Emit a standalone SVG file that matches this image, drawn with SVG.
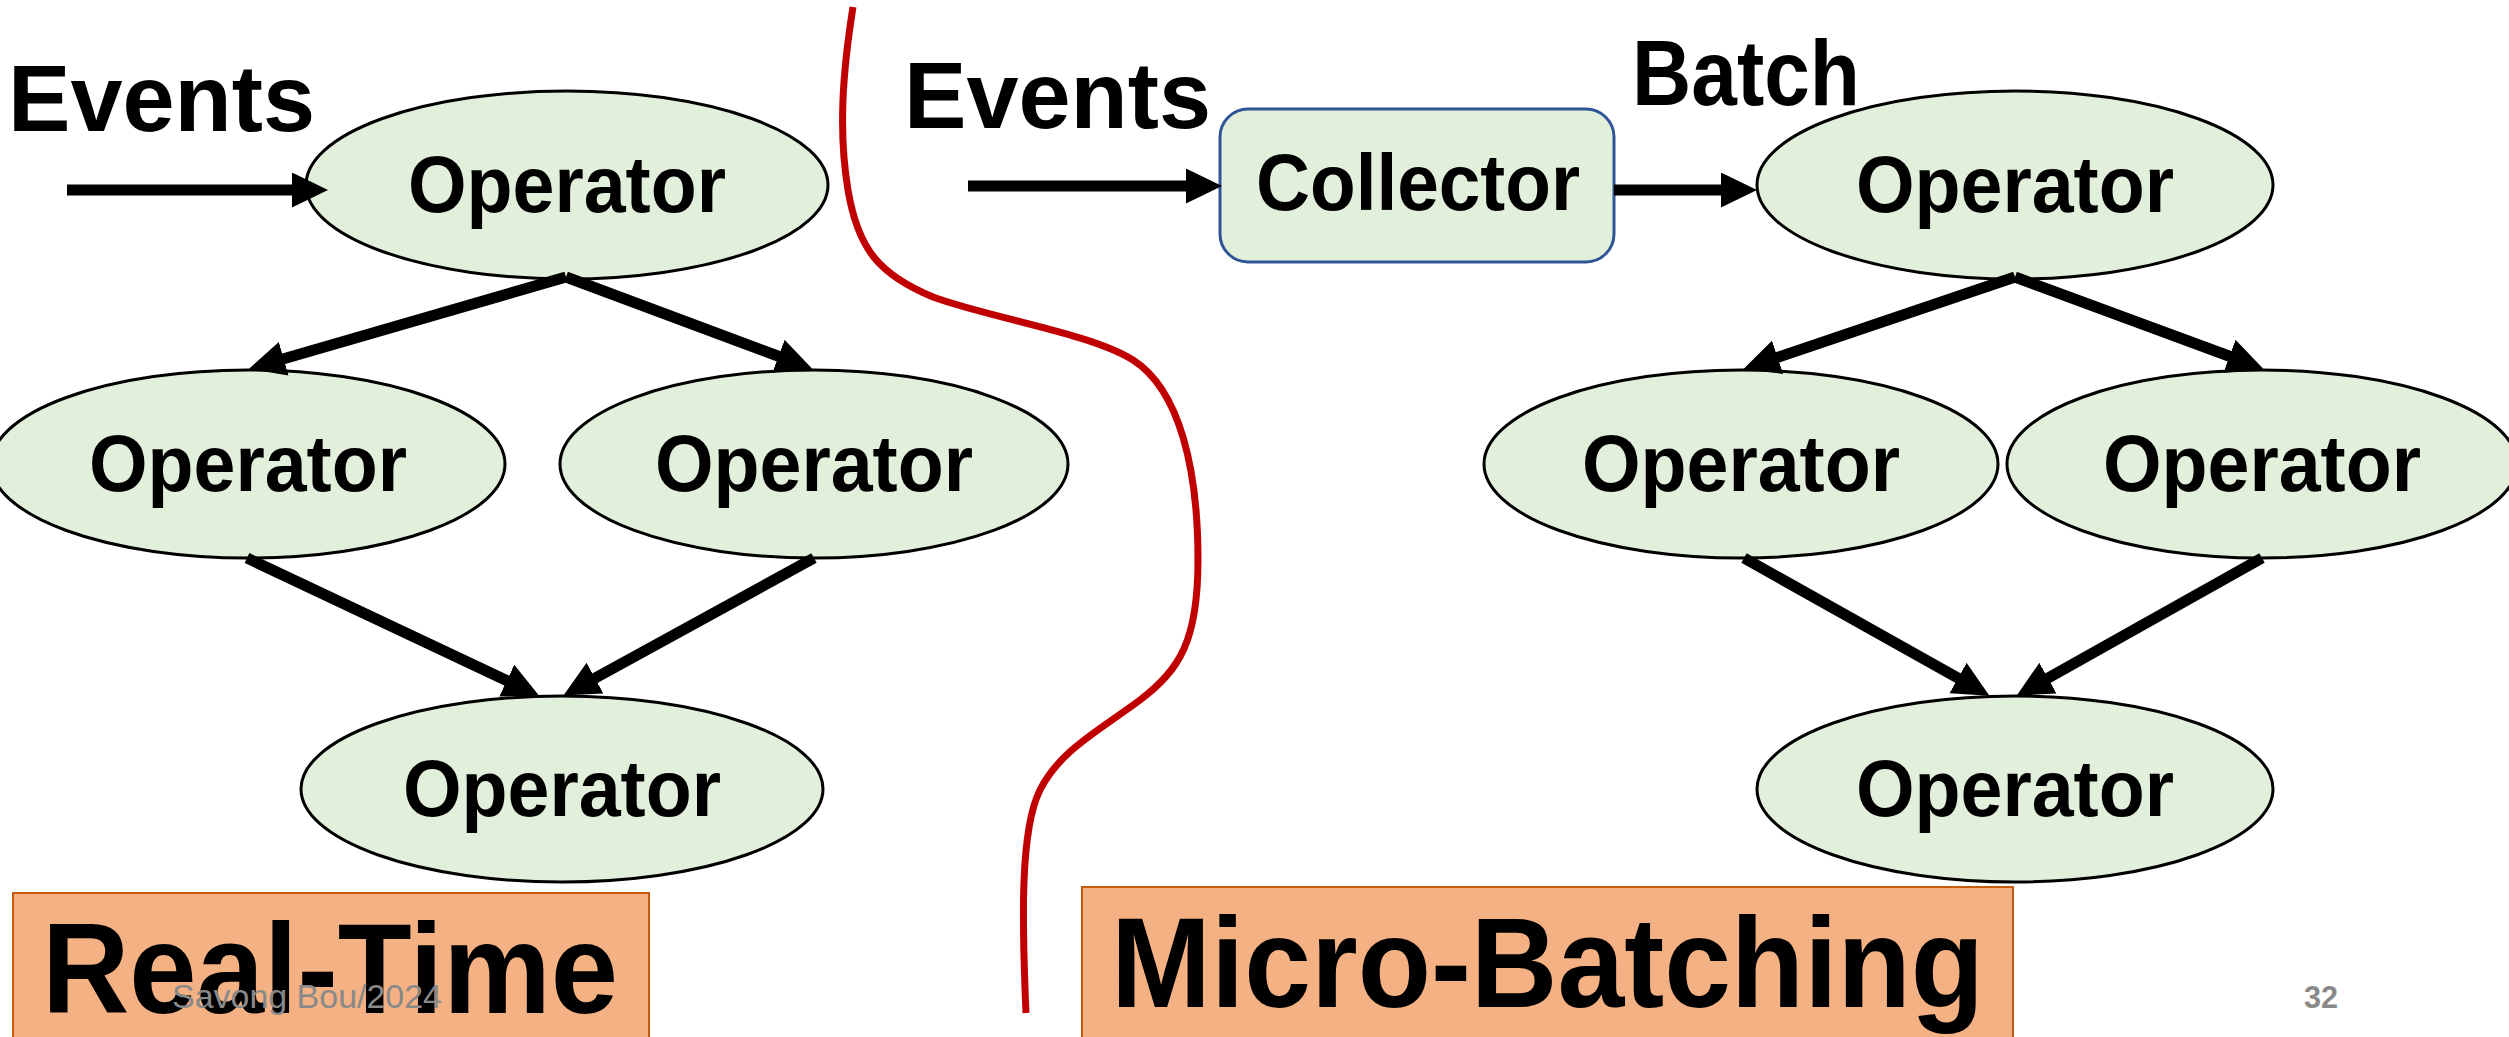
<svg xmlns="http://www.w3.org/2000/svg" width="2509" height="1037" viewBox="0 0 2509 1037">
<style>
.op{fill:#E2EFDA;stroke:#000;stroke-width:3}
.coll{fill:#E2EFDA;stroke:#2F5597;stroke-width:3}
.t{font-family:"Liberation Sans",Arial,sans-serif;font-weight:bold;fill:#000}
.nt{font-size:80px;text-anchor:middle}
.lab{fill:#F4B183;stroke:#C55A11;stroke-width:2}
.conn line{stroke:#000;stroke-width:11;fill:none}
.gray{font-family:"Liberation Sans",Arial,sans-serif;fill:#898989}
</style>
<defs>
<marker id="ah" markerUnits="userSpaceOnUse" markerWidth="40" markerHeight="40" refX="8" refY="17.5" orient="auto">
<path d="M0,0 L36,17.5 L0,35 Z" fill="#000"/>
</marker>
</defs>
<rect width="2509" height="1037" fill="#fff"/>

<path id="divider" d="M853,7 C843,70 838,130 848,190 C858,250 880,275 933,297 C990,318 1090,333 1133,360 C1180,390 1198,470 1198,560 C1198,640 1180,670 1140,700 C1100,730 1060,750 1040,790 C1020,830 1022,920 1026,1013" fill="none" stroke="#C00000" stroke-width="7"/>

<g id="rt-top"><ellipse class="op" cx="567" cy="185" rx="261" ry="94"/><text class="t nt" x="567" y="212" textLength="318" lengthAdjust="spacingAndGlyphs">Operator</text></g>
<g id="rt-midleft"><ellipse class="op" cx="248" cy="464" rx="257" ry="94"/><text class="t nt" x="248" y="491" textLength="318" lengthAdjust="spacingAndGlyphs">Operator</text></g>
<g id="rt-midright"><ellipse class="op" cx="814" cy="464" rx="254" ry="94"/><text class="t nt" x="814" y="491" textLength="318" lengthAdjust="spacingAndGlyphs">Operator</text></g>
<g id="rt-bottom"><ellipse class="op" cx="562" cy="789" rx="261" ry="93"/><text class="t nt" x="562" y="816" textLength="318" lengthAdjust="spacingAndGlyphs">Operator</text></g>

<g id="collector"><rect class="coll" x="1220" y="109" width="394" height="153" rx="28" ry="28"/><text class="t nt" x="1418" y="210" textLength="324" lengthAdjust="spacingAndGlyphs">Collector</text></g>
<g id="mb-top"><ellipse class="op" cx="2015" cy="185" rx="258" ry="94"/><text class="t nt" x="2015" y="212" textLength="318" lengthAdjust="spacingAndGlyphs">Operator</text></g>
<g id="mb-midleft"><ellipse class="op" cx="1741" cy="464" rx="257" ry="94"/><text class="t nt" x="1741" y="491" textLength="318" lengthAdjust="spacingAndGlyphs">Operator</text></g>
<g id="mb-midright"><ellipse class="op" cx="2262" cy="464" rx="255" ry="94"/><text class="t nt" x="2262" y="491" textLength="318" lengthAdjust="spacingAndGlyphs">Operator</text></g>
<g id="mb-bottom"><ellipse class="op" cx="2015" cy="789" rx="258" ry="93"/><text class="t nt" x="2015" y="816" textLength="318" lengthAdjust="spacingAndGlyphs">Operator</text></g>

<g id="connectors" class="conn">
<line x1="67" y1="190" x2="300" y2="190" marker-end="url(#ah)"/>
<line x1="566" y1="277" x2="276" y2="361" marker-end="url(#ah)"/>
<line x1="566" y1="277" x2="786" y2="359" marker-end="url(#ah)"/>
<line x1="247" y1="558" x2="514" y2="684" marker-end="url(#ah)"/>
<line x1="814" y1="558" x2="588" y2="682" marker-end="url(#ah)"/>
<line x1="968" y1="186" x2="1194" y2="186" marker-end="url(#ah)"/>
<line x1="1614" y1="190" x2="1729" y2="190" marker-end="url(#ah)"/>
<line x1="2015" y1="277" x2="1770" y2="360" marker-end="url(#ah)"/>
<line x1="2015" y1="277" x2="2237" y2="359" marker-end="url(#ah)"/>
<line x1="1744" y1="558" x2="1965" y2="682" marker-end="url(#ah)"/>
<line x1="2262" y1="558" x2="2041" y2="682" marker-end="url(#ah)"/>
</g>

<text class="t" x="8" y="131" font-size="94" textLength="307" lengthAdjust="spacingAndGlyphs">Events</text>
<text class="t" x="904" y="128" font-size="94" textLength="307" lengthAdjust="spacingAndGlyphs">Events</text>
<text class="t" x="1632" y="105" font-size="92" textLength="228" lengthAdjust="spacingAndGlyphs">Batch</text>

<g id="label-realtime"><rect class="lab" x="13" y="893" width="636" height="160"/><text class="t" x="42" y="1013" font-size="128" textLength="576" lengthAdjust="spacingAndGlyphs">Real-Time</text></g>
<g id="label-microbatching"><rect class="lab" x="1082" y="887" width="931" height="166"/><text class="t" x="1111" y="1007" font-size="128" textLength="873" lengthAdjust="spacingAndGlyphs">Micro-Batching</text></g>

<text class="gray" x="172" y="1008" font-size="34" textLength="270" lengthAdjust="spacingAndGlyphs">Savong Bou/2024</text>
<text class="gray" x="2304" y="1008" font-size="31" font-weight="bold" textLength="34" lengthAdjust="spacingAndGlyphs">32</text>
</svg>
